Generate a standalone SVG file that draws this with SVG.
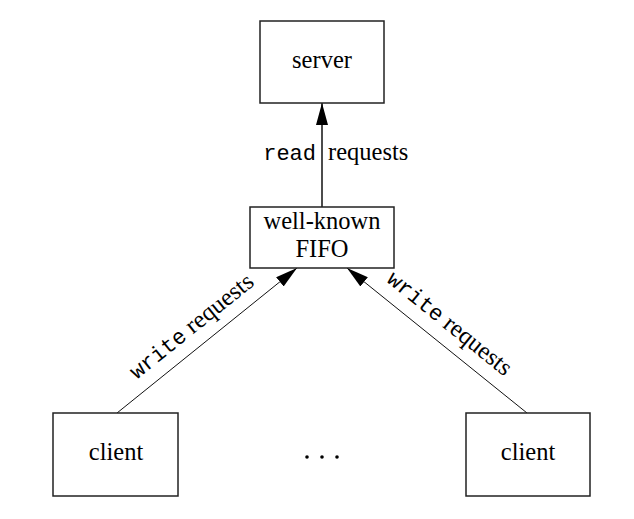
<svg xmlns="http://www.w3.org/2000/svg" width="634" height="519" viewBox="0 0 634 519">
<defs>
<style>
.box{fill:#fff;stroke:#222;stroke-width:1.5}
.lbl{font-family:"Liberation Serif","Times New Roman",serif;font-size:24.5px;fill:#000;text-anchor:middle}
.mono{font-family:"Liberation Mono","Courier New",monospace;font-size:22px}
.edge{stroke:#111;fill:none}
</style>
<marker id="ah" viewBox="0 0 22 12" refX="22" refY="6" markerWidth="22" markerHeight="12" markerUnits="userSpaceOnUse" orient="auto">
<path d="M0,0 L22,6 L0,12 Z" fill="#000"/>
</marker>
</defs>
<rect width="634" height="519" fill="#fff"/>
<g id="connectors">
<line class="edge" x1="322" y1="207" x2="322" y2="103" stroke-width="1.5" marker-end="url(#ah)"/>
<line class="edge" x1="117" y1="413" x2="297" y2="268" stroke-width="1" marker-end="url(#ah)"/>
<line class="edge" x1="527" y1="413" x2="347" y2="268" stroke-width="1" marker-end="url(#ah)"/>
<text class="lbl mono" x="316" y="160" style="text-anchor:end">read</text>
<text class="lbl" x="328" y="160" style="text-anchor:start">requests</text>
<text class="lbl" transform="translate(196,332) rotate(-38.9)"><tspan class="mono">write</tspan> requests</text>
<text class="lbl" transform="translate(445,329) rotate(38.9)"><tspan class="mono">write</tspan> requests</text>
</g>
<g id="server">
<rect class="box" x="260" y="21" width="124" height="82"/>
<text class="lbl" x="322" y="68">server</text>
</g>
<g id="fifo">
<rect class="box" x="250" y="207" width="144" height="61"/>
<text class="lbl" x="322" y="229">well-known</text>
<text class="lbl" x="322" y="257">FIFO</text>
</g>
<g id="client1">
<rect class="box" x="53" y="413" width="125" height="83"/>
<text class="lbl" x="116" y="460">client</text>
</g>
<g id="client2">
<rect class="box" x="466" y="413" width="124" height="83"/>
<text class="lbl" x="528" y="460">client</text>
</g>
<g id="dots" fill="#000">
<circle cx="307" cy="457" r="1.8"/>
<circle cx="322" cy="457" r="1.8"/>
<circle cx="337" cy="457" r="1.8"/>
</g>
</svg>
